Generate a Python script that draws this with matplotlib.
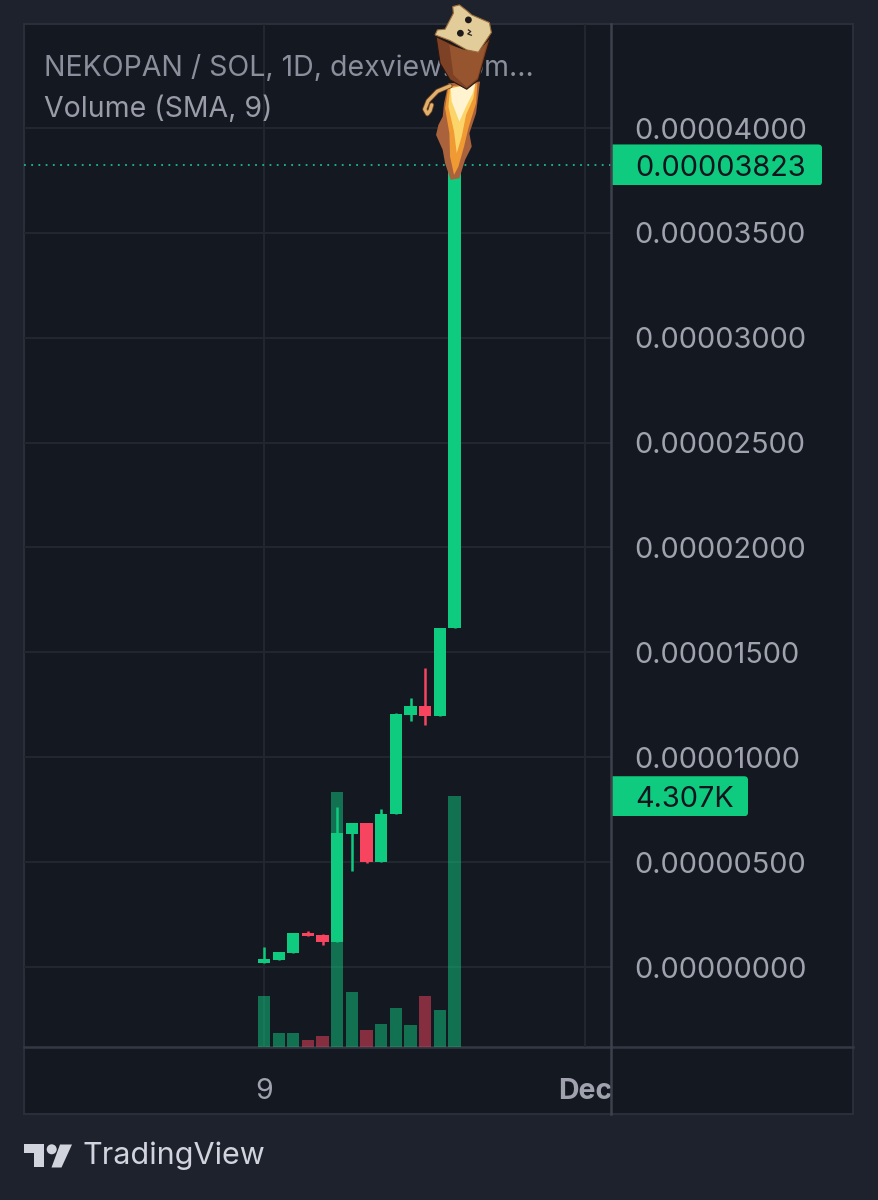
import matplotlib
matplotlib.use("Agg")
import matplotlib.pyplot as plt
from matplotlib.patches import Polygon, Rectangle, FancyBboxPatch, Circle
from matplotlib.transforms import Bbox
from matplotlib.ticker import FixedLocator, FixedFormatter

plt.rcParams['font.family'] = ['Inter', 'DejaVu Sans']

# ---- data (prices in SOL, volume in SOL-K units)
scale = 1e-5
opens  = [0.0205, 0.0334, 0.068, 0.1621, 0.1526, 0.1206, 0.634, 0.688, 0.502, 0.7278, 1.2014, 1.2458, 1.197, 1.616]
highs  = [0.0939, 0.0715, 0.1606, 0.173, 0.1573, 0.7613, 0.688, 0.688, 0.752, 1.213, 1.281, 1.427, 1.617, 3.823]
lows   = [0.0205, 0.0334, 0.068, 0.149, 0.1063, 0.1206, 0.459, 0.494, 0.502, 0.7278, 1.173, 1.154, 1.197, 1.616]
closes = [0.0367, 0.0715, 0.1606, 0.149, 0.1206, 0.6374, 0.688, 0.502, 0.729, 1.206, 1.2443, 1.195, 1.617, 3.823]
volumes = [871, 241, 241, 126, 194, 4376, 950, 297, 395, 670, 378, 881, 641, 4307]
price_ticks = [0, 0.5, 1.0, 1.5, 2.0, 2.5, 3.0, 3.5, 4.0]
time_ticks = [0, 21.91]
time_labels = ['9', 'Dec']
title_lines = ['NEKOPAN / SOL, 1D, dexview.com...', 'Volume (SMA, 9)']
last_price_label = '0.00003823'
last_volume_label = '4.307K'

W, H = 878, 1200
OUTER, PANE = '#1e222d', '#141821'
GRID, BORDER = '#22262f', '#2a2e39'
TEXT, UP, DOWN = '#a0a3ad', '#0fcb80', '#f7455f'
BARW = 12.3 / 14.65


def rect(l, t, r, b):
    return [l / W, 1 - b / H, (r - l) / W, (b - t) / H]


fig = plt.figure(figsize=(W / 100 + 0.001, H / 100 + 0.001), dpi=100, facecolor=OUTER)

# background pane, in pixel coordinates
bg = fig.add_axes([0, 0, 1, 1], zorder=0)
bg.set_xlim(0, W); bg.set_ylim(H, 0); bg.axis('off')
bg.add_patch(Rectangle((24, 24), 829, 1090, fc=PANE, ec=BORDER, lw=1.5))
bg.plot([24, 853], [1047, 1047], color='#343843', lw=1.8)

# price axes object is created first so grid lines can share its scale
ax = fig.add_axes(rect(24, 24, 611, 1047), zorder=2)
axv = fig.add_axes(rect(24, 24, 611, 1047), zorder=1)
axv.patch.set_alpha(0)
x = list(range(len(opens)))
axv.set_xlim((24 - 264) / 14.65, (611 - 264) / 14.65)
axv.set_ylim(0, 1023 * 17.18)
axv.axis('off')
vcol = [UP if c >= o else DOWN for o, c in zip(opens, closes)]

ax.patch.set_alpha(0)
ax.set_xlim(axv.get_xlim())
ax.set_ylim((967 - 1047) / 209.75, (967 - 24) / 209.75)

# grid below the volume bars
for v in price_ticks:
    axv.plot([0, 1], [v, v], transform=ax.get_yaxis_transform(), color=GRID, lw=1.5, zorder=1)
for t in time_ticks:
    axv.plot([t, t], [0, 1], transform=ax.get_xaxis_transform(), color=GRID, lw=1.5, zorder=1)
axv.bar(x, volumes, width=BARW, color=vcol, alpha=0.5, zorder=2)

for s in ax.spines.values():
    s.set_visible(False)
ax.yaxis.tick_right()
ax.yaxis.set_major_locator(FixedLocator(price_ticks))
ax.yaxis.set_major_formatter(FixedFormatter([f'{v * scale:.8f}' for v in price_ticks]))
ax.xaxis.set_major_locator(FixedLocator(time_ticks))
ax.xaxis.set_major_formatter(FixedFormatter(time_labels))
ax.tick_params(axis='y', length=0, pad=16.5, labelsize=20.8, labelcolor=TEXT)
ax.tick_params(axis='x', length=0, pad=22, labelsize=20.5, labelcolor=TEXT)
dec = ax.get_xticklabels()[1]
dec.set_fontweight('bold')
dec.set_clip_on(True)
dec.set_clip_box(Bbox.from_extents(24, 0, 611, H))

for i, (o, h, l, c) in enumerate(zip(opens, highs, lows, closes)):
    col = UP if c >= o else DOWN
    ax.vlines(i, l, h, color=col, lw=1.8, zorder=3)
    ax.bar(i, abs(c - o), bottom=min(o, c), width=BARW, color=col, zorder=3)

ax.axhline(closes[-1], color='#1fb893', lw=1.3, ls=(0, (1, 3)), zorder=2.5)

ax.text(20 / 587, 1 - 44.5 / 1023, title_lines[0], transform=ax.transAxes, color='#8b8f9b',
        fontsize=20.5, va='center', ha='left')
ax.text(20 / 587, 1 - 85.5 / 1023, title_lines[1], transform=ax.transAxes, color='#9a9da8',
        fontsize=20.5, va='center', ha='left')

# overlay in pixel coordinates
ov = fig.add_axes([0, 0, 1, 1], zorder=3)
ov.set_xlim(0, W); ov.set_ylim(H, 0); ov.axis('off'); ov.patch.set_alpha(0)
ov.plot([611, 611], [24, 1114], color='#3d414c', lw=1.8)


def pill(data_y, trans, right, half, label):
    y = H - trans.transform((0, data_y))[1]
    p = FancyBboxPatch((600, y - half), right - 600, 2 * half,
                       boxstyle='round,pad=0,rounding_size=4', fc=UP, ec='none')
    ov.add_patch(p)
    p.set_clip_path(Rectangle((611, y - half), right - 611, 2 * half, transform=ov.transData))
    ov.text(635, y, label, color='#10141d', fontsize=20.8, va='center_baseline', ha='left')


pill(closes[-1], ax.transData, 822, 20.5, last_price_label)
pill(volumes[-1], axv.transData, 748, 20, last_volume_label)

# TradingView logo
LOGO = '#d1d4dc'
ov.add_patch(Polygon([(24, 1144), (44, 1144), (44, 1167), (33.5, 1167), (33.5, 1153), (24, 1153)], fc=LOGO))
ov.add_patch(Circle((51.7, 1149.3), 5, fc=LOGO))
ov.add_patch(Polygon([(60, 1144.5), (72, 1144.5), (61.5, 1167.5), (51.5, 1167.5)], fc=LOGO))
ov.text(82, 1156, 'TradingView', color=LOGO, fontsize=22, va='center', ha='left')


# rocket-cat sticker, shapes given in the coordinates of a 3x crop at (400, 0)
def z(pts):
    return [(400 + a / 3, b / 3) for a, b in pts]


flames = [
    ('#a9623c', [(145, 250), (132, 310), (128, 350), (115, 375), (108, 405), (128, 450), (135, 490), (152, 540), (178, 535), (195, 480), (215, 440), (208, 400), (228, 340), (240, 245)]),
    ('#ef9a33', [(145, 260), (135, 325), (148, 400), (150, 470), (162, 525), (175, 500), (192, 440), (205, 385), (228, 310), (232, 250)]),
    ('#fbd569', [(150, 265), (145, 320), (162, 395), (170, 460), (185, 410), (198, 345), (220, 295), (226, 255)]),
    ('#fff4cf', [(152, 265), (155, 305), (178, 365), (198, 320), (218, 280), (226, 250)]),
]
for col, pts in flames:
    ov.add_patch(Polygon(z(pts), fc=col, ec='none'))
tail = z([(150, 258), (112, 274), (84, 303), (74, 328), (82, 342), (90, 332), (95, 315)])
ov.plot(*zip(*tail), color='#6b4020', lw=3.6, solid_capstyle='round')
ov.plot(*zip(*tail), color='#e0b06c', lw=2.4, solid_capstyle='round')
ov.add_patch(Polygon(z([(108, 110), (120, 190), (150, 240), (200, 268), (235, 240), (272, 110), (240, 150), (190, 150)]),
                     fc='#7d4126', ec='#2a1710', lw=0.8))
ov.add_patch(Polygon(z([(148, 135), (160, 225), (200, 262), (232, 235), (262, 125), (235, 155), (200, 152)]), fc='#96552e', ec='none'))
ov.add_patch(Polygon(z([(105, 105), (112, 90), (135, 88), (160, 40), (158, 20), (178, 15), (200, 32), (215, 45), (268, 68), (274, 98), (235, 157), (200, 150), (150, 122)]),
                     fc='#e2cc9a', ec='#9a6b3a', lw=0.8))
for cx, cy in [(205, 60), (181, 100)]:
    ov.add_patch(Circle(z([(cx, cy)])[0], 3.4, fc='#1c1a1a'))
ov.plot(*zip(*z([(205, 90), (212, 95), (203, 102), (214, 106)])), color='#2a2320', lw=0.9)

fig.savefig('out.png', dpi=100, facecolor=OUTER)
